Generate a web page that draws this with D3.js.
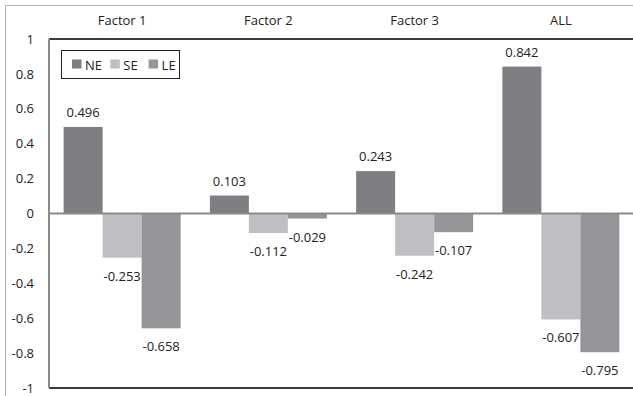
<!DOCTYPE html>
<html><head><meta charset="utf-8">
<script src="https://cdn.jsdelivr.net/npm/d3@7"></script>
<style>body{margin:0;background:#fff}svg{display:block}text{font-family:"Open Sans","Noto Sans",sans-serif;fill:#222}</style>
</head><body>
<svg id="c" width="633" height="396"></svg>
<script>
const categories = ["Factor 1", "Factor 2", "Factor 3", "ALL"];
const seriesNames = ["NE", "SE", "LE"];
const NE = [0.496, 0.103, 0.243, 0.842];
const SE = [-0.253, -0.112, -0.242, -0.607];
const LE = [-0.658, -0.029, -0.107, -0.795];
const yTicks = [1, 0.8, 0.6, 0.4, 0.2, 0, -0.2, -0.4, -0.6, -0.8, -1];
const colors = ["#7f7f83", "#bfbfc3", "#959599"];

const series = [NE, SE, LE];
const svg = d3.select("#c");
const pL = 49, pR = 634, pT = 39, pB = 388;

const x = d3.scaleBand().domain(categories).range([pL, pR]).paddingInner(0.2).paddingOuter(0.1);
const xs = d3.scaleBand().domain(seriesNames).range([0, x.bandwidth()]);
const y = d3.scaleLinear().domain([-1, 1]).range([pB, pT]);

// outer border
svg.append("path").attr("d", `M5.5,396 V5.5 H633`).attr("fill", "none").attr("stroke", "#b0b0b0").attr("stroke-width", 1);

// header labels
const xh = d3.scaleBand().domain(categories).range([pL, pR]);
svg.append("g").selectAll("text").data(categories).join("text")
  .attr("x", d => xh(d) + xh.bandwidth() / 2).attr("y", 20)
  .attr("text-anchor", "middle").attr("dominant-baseline", "central")
  .attr("font-size", 13).text(d => d);

// y axis labels
const yAxis = d3.axisLeft(y).tickValues(yTicks).tickSize(0).tickPadding(15).tickFormat(d => d3.format("")(d).replace("−", "-"));
const ga = svg.append("g").attr("transform", `translate(${pL},0)`).call(yAxis);
ga.select(".domain").remove();
ga.selectAll("text").attr("font-size", 13).attr("fill", "#222").style("font-family", '"Open Sans","Noto Sans",sans-serif');

// bars
const groups = svg.append("g").selectAll("g").data(series).join("g")
  .attr("fill", (d, i) => colors[i]);
groups.each(function (vals, si) {
  d3.select(this).selectAll("rect").data(vals).join("rect")
    .attr("x", (v, ci) => x(categories[ci]) + xs(seriesNames[si]))
    .attr("width", xs.bandwidth())
    .attr("y", v => y(Math.max(0, v)))
    .attr("height", v => Math.abs(y(v) - y(0)));
});

// lines
svg.append("line").attr("x1", pL).attr("x2", 633).attr("y1", y(0)).attr("y2", y(0)).attr("stroke", "#8a8a8a").attr("stroke-width", 2);
svg.append("line").attr("x1", pL).attr("x2", 633).attr("y1", pT).attr("y2", pT).attr("stroke", "#3a3a3a").attr("stroke-width", 2);
svg.append("line").attr("x1", pL).attr("x2", 633).attr("y1", pB).attr("y2", pB).attr("stroke", "#3a3a3a").attr("stroke-width", 2);
svg.append("line").attr("x1", pL).attr("x2", pL).attr("y1", pT).attr("y2", pB).attr("stroke", "#8a8a8a").attr("stroke-width", 2);

// data labels
series.forEach((vals, si) => {
  svg.append("g").selectAll("text").data(vals).join("text")
    .attr("x", (v, ci) => x(categories[ci]) + xs(seriesNames[si]) + xs.bandwidth() / 2)
    .attr("y", v => v >= 0 ? y(v) - 15 : y(v) + 18)
    .attr("text-anchor", "middle").attr("dominant-baseline", "central")
    .attr("font-size", 13).text(v => d3.format(".3f")(v).replace("−", "-"));
});

// legend
const lg = svg.append("g");
lg.append("rect").attr("x", 61.5).attr("y", 50.5).attr("width", 118).attr("height", 28).attr("fill", "#fff").attr("stroke", "#222").attr("stroke-width", 1);
seriesNames.forEach((n, i) => {
  lg.append("rect").attr("x", 72 + i * 38.3).attr("y", 59.5).attr("width", 9.5).attr("height", 9).attr("fill", colors[i]);
  lg.append("text").attr("x", 85 + i * 38.3).attr("y", 64.5).attr("dominant-baseline", "central").attr("font-size", 13).text(n);
});
</script>
</body></html>
